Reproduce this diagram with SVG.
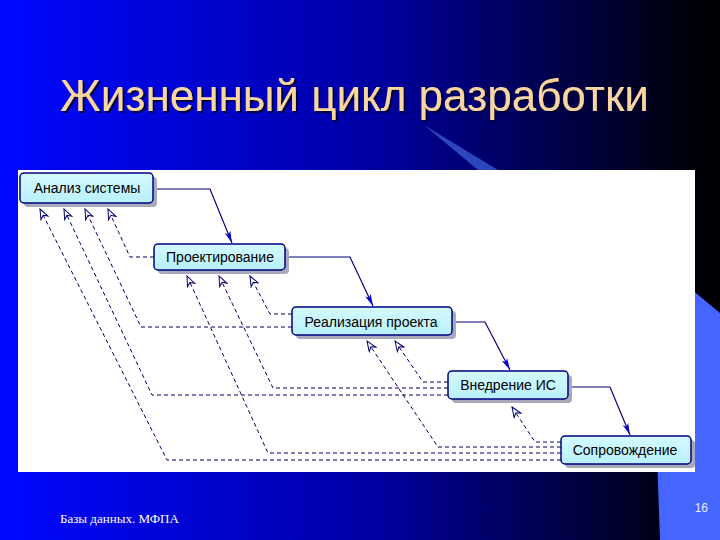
<svg xmlns="http://www.w3.org/2000/svg" width="720" height="540" viewBox="0 0 720 540">
<defs>
<linearGradient id="bg" x1="0" y1="0" x2="1" y2="0">
<stop offset="0" stop-color="#0008ff"/>
<stop offset="0.5" stop-color="#0000a8"/>
<stop offset="0.92" stop-color="#000018"/>
<stop offset="1" stop-color="#000000"/>
</linearGradient>
<linearGradient id="nf" x1="0" y1="0" x2="0" y2="1">
<stop offset="0" stop-color="#d4faff"/>
<stop offset="1" stop-color="#b8f0fc"/>
</linearGradient>
<filter id="tshadow" x="-5%" y="-20%" width="110%" height="140%">
<feDropShadow dx="2" dy="2" stdDeviation="0.6" flood-color="#000030" flood-opacity="0.9"/>
</filter>
<marker id="fa" viewBox="0 0 12 8" refX="12" refY="4" markerWidth="12" markerHeight="8" markerUnits="userSpaceOnUse" orient="auto">
<path d="M0,1 L12,4 L0,7 L3,4z" fill="#0000d0"/>
</marker>
<marker id="oa" viewBox="0 0 12 10" refX="11" refY="5" markerWidth="12" markerHeight="10" markerUnits="userSpaceOnUse" orient="auto">
<path d="M1,1 L11,5 L1,9 L4,5z" fill="#ffffff" stroke="#000070" stroke-width="1"/>
</marker>
</defs>
<style>
.title{font-family:"Liberation Sans",Arial,sans-serif;font-size:44px;fill:#f9d6a0;filter:url(#tshadow)}
.box{fill:url(#nf);stroke:#000080;stroke-width:1.5}
.sh{fill:#a8aabb}
.lbl{font-family:"Liberation Sans",Arial,sans-serif;font-size:14px;fill:#000000;text-anchor:middle}
.solid{fill:none;stroke:#000080;stroke-width:1.2;marker-end:url(#fa)}
.dash{fill:none;stroke:#000060;stroke-width:1;stroke-dasharray:4 3;marker-end:url(#oa)}
</style>
<rect x="0" y="0" width="720" height="540" fill="url(#bg)"/>
<polygon points="424,125 478,170 498,170" fill="#3858d0" opacity="0.8"/>
<polygon points="650,255 720,313 720,540 660,540" fill="#4466ff"/>
<text class="title" x="60" y="111">Жизненный цикл разработки</text>
<rect x="18" y="170" width="677" height="302" fill="#ffffff"/>
<g id="connectors">
<path class="solid" d="M153,189 H210 L232,243"/>
<path class="solid" d="M285,257 H350 L373,306"/>
<path class="solid" d="M452,322 H485 L510,370"/>
<path class="solid" d="M568,387 H610 L630,435"/>
<path class="dash" d="M154,257 H130 L108,209"/>
<path class="dash" d="M292,327 H141 L85,209"/>
<path class="dash" d="M448,395 H152 L64,209"/>
<path class="dash" d="M561,460 H167 L40,209"/>
<path class="dash" d="M292,314 H270 L250,276"/>
<path class="dash" d="M448,388 H273 L219,276"/>
<path class="dash" d="M561,453 H268 L187,276"/>
<path class="dash" d="M448,382 H423 L395,341"/>
<path class="dash" d="M561,447 H438 L367,341"/>
<path class="dash" d="M561,442 H535 L512,407"/>
</g>
<g id="n1">
<rect class="sh" x="24" y="177" width="133" height="30" rx="4"/>
<rect class="box" x="20" y="173" width="133" height="30" rx="4"/>
<text class="lbl" x="87" y="193">Анализ системы</text>
</g>
<g id="n2">
<rect class="sh" x="158" y="248" width="131" height="26" rx="4"/>
<rect class="box" x="154" y="244" width="131" height="26" rx="4"/>
<text class="lbl" x="220" y="262">Проектирование</text>
</g>
<g id="n3">
<rect class="sh" x="296" y="311" width="160" height="28" rx="4"/>
<rect class="box" x="292" y="307" width="160" height="28" rx="4"/>
<text class="lbl" x="371" y="327">Реализация проекта</text>
</g>
<g id="n4">
<rect class="sh" x="452" y="375" width="120" height="28" rx="4"/>
<rect class="box" x="448" y="371" width="120" height="28" rx="4"/>
<text class="lbl" x="508" y="390">Внедрение ИС</text>
</g>
<g id="n5">
<rect class="sh" x="565" y="440" width="130" height="28" rx="4"/>
<rect class="box" x="561" y="436" width="130" height="28" rx="4"/>
<text class="lbl" x="625" y="455">Сопровождение</text>
</g>
<text x="60" y="523" font-family="'Liberation Serif','Times New Roman',serif" font-size="13" fill="#ffffff">Базы данных. МФПА</text>
<text x="708" y="512" font-family="'Liberation Sans',Arial,sans-serif" font-size="12" fill="#e8ecff" text-anchor="end">16</text>
</svg>
